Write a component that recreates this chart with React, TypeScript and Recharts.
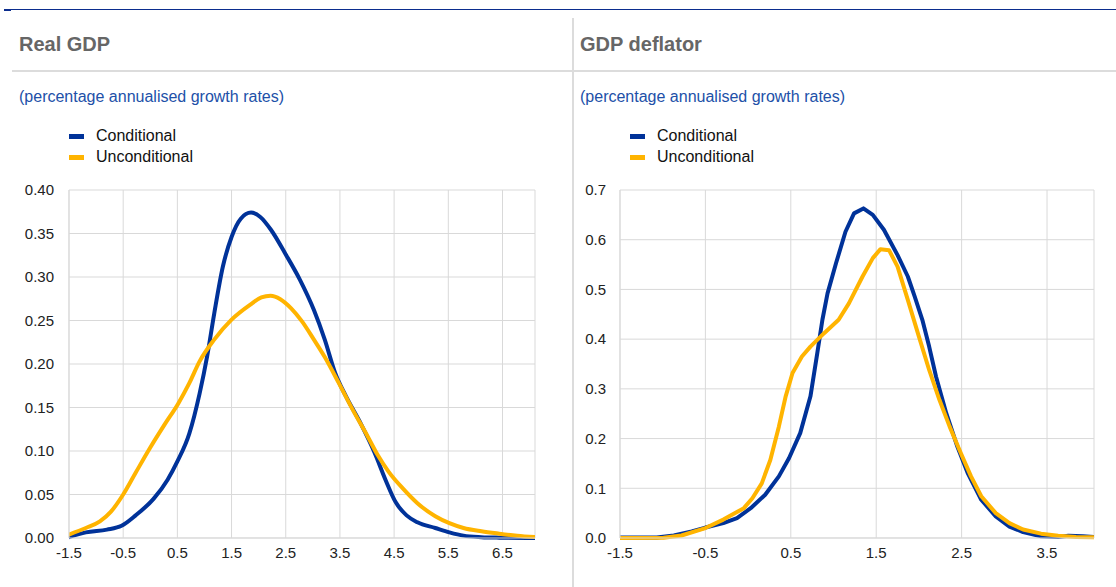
import React from 'react';
import { LineChart, Line, XAxis, YAxis, CartesianGrid } from 'recharts';

type Pt = { x: number; y: number };

// Real GDP densities (x = growth rate, y = density)
const realGdpConditional: Pt[] = [
  { x: -1.5, y: 0.001 }, { x: -1.19, y: 0.0065 }, { x: -0.8, y: 0.0096 }, { x: -0.53, y: 0.014 },
  { x: -0.27, y: 0.026 }, { x: 0.06, y: 0.045 }, { x: 0.32, y: 0.067 }, { x: 0.5, y: 0.088 },
  { x: 0.72, y: 0.12 }, { x: 0.91, y: 0.166 }, { x: 1.05, y: 0.209 }, { x: 1.18, y: 0.258 },
  { x: 1.34, y: 0.312 }, { x: 1.5, y: 0.346 }, { x: 1.67, y: 0.367 }, { x: 1.86, y: 0.374 },
  { x: 2.03, y: 0.369 }, { x: 2.23, y: 0.354 }, { x: 2.49, y: 0.327 }, { x: 2.76, y: 0.297 },
  { x: 3.02, y: 0.262 }, { x: 3.22, y: 0.228 }, { x: 3.41, y: 0.19 }, { x: 3.61, y: 0.163 },
  { x: 3.88, y: 0.132 }, { x: 4.14, y: 0.098 }, { x: 4.34, y: 0.067 }, { x: 4.53, y: 0.041 },
  { x: 4.73, y: 0.026 }, { x: 4.93, y: 0.018 }, { x: 5.26, y: 0.0115 }, { x: 5.52, y: 0.0065 },
  { x: 5.78, y: 0.0027 }, { x: 6.11, y: 0.001 }, { x: 6.44, y: 0.0004 }, { x: 7.1, y: 0 },
];

const realGdpUnconditional: Pt[] = [
  { x: -1.5, y: 0.004 }, { x: -1.19, y: 0.0115 }, { x: -0.93, y: 0.019 }, { x: -0.73, y: 0.03 },
  { x: -0.5, y: 0.05 }, { x: -0.27, y: 0.075 }, { x: 0.0, y: 0.104 }, { x: 0.26, y: 0.13 },
  { x: 0.52, y: 0.155 }, { x: 0.72, y: 0.178 }, { x: 0.91, y: 0.203 }, { x: 1.18, y: 0.228 },
  { x: 1.5, y: 0.251 }, { x: 1.84, y: 0.268 }, { x: 2.05, y: 0.2765 }, { x: 2.22, y: 0.2785 },
  { x: 2.4, y: 0.2745 }, { x: 2.6, y: 0.264 }, { x: 2.8, y: 0.249 }, { x: 3.02, y: 0.228 },
  { x: 3.22, y: 0.208 }, { x: 3.48, y: 0.178 }, { x: 3.74, y: 0.147 }, { x: 4.01, y: 0.117 },
  { x: 4.2, y: 0.095 }, { x: 4.4, y: 0.076 }, { x: 4.66, y: 0.057 }, { x: 4.93, y: 0.04 },
  { x: 5.26, y: 0.025 }, { x: 5.52, y: 0.017 }, { x: 5.78, y: 0.0115 }, { x: 6.11, y: 0.0077 },
  { x: 6.44, y: 0.005 }, { x: 6.77, y: 0.0027 }, { x: 7.1, y: 0.001 },
];

// GDP deflator densities
const deflatorConditional: Pt[] = [
  { x: -1.5, y: 0.001 }, { x: -1.07, y: 0.001 }, { x: -0.87, y: 0.005 }, { x: -0.66, y: 0.013 },
  { x: -0.5, y: 0.021 }, { x: -0.29, y: 0.03 }, { x: -0.13, y: 0.04 }, { x: 0.03, y: 0.06 },
  { x: 0.2, y: 0.087 }, { x: 0.36, y: 0.124 }, { x: 0.48, y: 0.161 }, { x: 0.61, y: 0.211 },
  { x: 0.73, y: 0.285 }, { x: 0.81, y: 0.372 }, { x: 0.87, y: 0.439 }, { x: 0.93, y: 0.492 },
  { x: 1.03, y: 0.553 }, { x: 1.14, y: 0.616 }, { x: 1.24, y: 0.653 }, { x: 1.35, y: 0.663 },
  { x: 1.46, y: 0.65 }, { x: 1.59, y: 0.62 }, { x: 1.75, y: 0.569 }, { x: 1.87, y: 0.526 },
  { x: 1.95, y: 0.486 }, { x: 2.04, y: 0.439 }, { x: 2.12, y: 0.385 }, { x: 2.2, y: 0.325 },
  { x: 2.32, y: 0.251 }, { x: 2.45, y: 0.184 }, { x: 2.57, y: 0.131 }, { x: 2.73, y: 0.077 },
  { x: 2.9, y: 0.0435 }, { x: 3.06, y: 0.023 }, { x: 3.22, y: 0.012 }, { x: 3.43, y: 0.0033 },
  { x: 3.63, y: 0.002 }, { x: 3.75, y: 0.0047 }, { x: 3.92, y: 0.0033 }, { x: 4.05, y: 0.002 },
];

const deflatorUnconditional: Pt[] = [
  { x: -1.5, y: 0 }, { x: -0.99, y: 0.0007 }, { x: -0.78, y: 0.005 }, { x: -0.5, y: 0.02 },
  { x: -0.29, y: 0.037 }, { x: -0.05, y: 0.06 }, { x: 0.05, y: 0.08 }, { x: 0.16, y: 0.11 },
  { x: 0.26, y: 0.157 }, { x: 0.36, y: 0.224 }, { x: 0.44, y: 0.285 }, { x: 0.52, y: 0.332 },
  { x: 0.63, y: 0.365 }, { x: 0.73, y: 0.385 }, { x: 0.89, y: 0.412 }, { x: 1.06, y: 0.439 },
  { x: 1.18, y: 0.472 }, { x: 1.34, y: 0.526 }, { x: 1.46, y: 0.563 }, { x: 1.55, y: 0.581 },
  { x: 1.65, y: 0.579 }, { x: 1.75, y: 0.546 }, { x: 1.87, y: 0.479 }, { x: 2.0, y: 0.405 },
  { x: 2.12, y: 0.338 }, { x: 2.24, y: 0.278 }, { x: 2.36, y: 0.224 }, { x: 2.49, y: 0.171 },
  { x: 2.61, y: 0.124 }, { x: 2.73, y: 0.084 }, { x: 2.9, y: 0.05 }, { x: 3.06, y: 0.03 },
  { x: 3.22, y: 0.017 }, { x: 3.43, y: 0.0087 }, { x: 3.63, y: 0.0047 }, { x: 3.84, y: 0.002 },
  { x: 4.05, y: 0.0013 },
];

const realGdpXTicks = [-1.5, -0.5, 0.5, 1.5, 2.5, 3.5, 4.5, 5.5, 6.5];
const realGdpYTicks = [0, 0.05, 0.1, 0.15, 0.2, 0.25, 0.3, 0.35, 0.4];
const deflatorXTicks = [-1.5, -0.5, 0.5, 1.5, 2.5, 3.5];
const deflatorYTicks = [0, 0.1, 0.2, 0.3, 0.4, 0.5, 0.6, 0.7];

const BLUE = '#003299';
const YELLOW = '#ffb400';
const GRID = '#d9d9d9';
const FONT = '"Liberation Sans", Arial, sans-serif';

const tickStyle = { fontSize: 15, fill: '#222', fontFamily: FONT };

function Header({ left, title }: { left: number; title: string }) {
  return (
    <>
      <div style={{ position: 'absolute', left, top: 33, fontSize: 20, fontWeight: 'bold', color: '#666', fontFamily: FONT }}>
        {title}
      </div>
      <div style={{ position: 'absolute', left, top: 88, fontSize: 16, color: '#2150a8', fontFamily: FONT }}>
        (percentage annualised growth rates)
      </div>
      {[
        { name: 'Conditional', color: BLUE, top: 127 },
        { name: 'Unconditional', color: YELLOW, top: 148 },
      ].map((it) => (
        <div key={it.name} style={{ position: 'absolute', left: left + 50, top: it.top, fontFamily: FONT, fontSize: 16, color: '#111', display: 'flex', alignItems: 'center' }}>
          <span style={{ display: 'inline-block', width: 15, height: 5, background: it.color, marginRight: 12 }} />
          {it.name}
        </div>
      ))}
    </>
  );
}

export default function App() {
  return (
    <div style={{ position: 'absolute', left: 0, top: 0, width: 1116, height: 587, background: '#fff', overflow: 'hidden' }}>
      <div style={{ position: 'absolute', left: 4, top: 9, width: 1112, height: 1, background: '#0b2d8e' }} />
      <div style={{ position: 'absolute', left: 4, top: 9, width: 7, height: 2, background: '#0b2d8e' }} />
      <div style={{ position: 'absolute', left: 12, top: 70, width: 1104, height: 2, background: '#dcdcdc' }} />
      <div style={{ position: 'absolute', left: 572, top: 18, width: 2, height: 569, background: '#dcdcdc' }} />

      <Header left={19} title="Real GDP" />
      <Header left={580} title="GDP deflator" />

      <div style={{ position: 'absolute', left: 0, top: 180 }}>
        <LineChart width={545} height={400} margin={{ top: 10, right: 10, bottom: 0, left: 0 }}>
          <CartesianGrid stroke={GRID} strokeWidth={1} />
          <XAxis
            type="number"
            dataKey="x"
            domain={[-1.5, 7.1]}
            ticks={realGdpXTicks}
            tickFormatter={(v: number) => v.toFixed(1)}
            allowDataOverflow
            tickLine={false}
            axisLine={{ stroke: GRID }}
            tick={tickStyle}
            tickMargin={3}
            height={42}
          />
          <YAxis
            type="number"
            domain={[0, 0.4]}
            ticks={realGdpYTicks}
            tickFormatter={(v: number) => v.toFixed(2)}
            tickLine={false}
            axisLine={{ stroke: GRID }}
            tick={tickStyle}
            tickMargin={9}
            width={69}
          />
          <Line data={realGdpConditional} dataKey="y" type="monotone" stroke={BLUE} strokeWidth={4} dot={false} strokeLinecap="round" isAnimationActive={false} />
          <Line data={realGdpUnconditional} dataKey="y" type="monotone" stroke={YELLOW} strokeWidth={4} dot={false} strokeLinecap="round" isAnimationActive={false} />
        </LineChart>
      </div>

      <div style={{ position: 'absolute', left: 575, top: 180 }}>
        <LineChart width={529} height={400} margin={{ top: 10, right: 10, bottom: 0, left: 0 }}>
          <CartesianGrid stroke={GRID} strokeWidth={1} />
          <XAxis
            type="number"
            dataKey="x"
            domain={[-1.5, 4.05]}
            ticks={deflatorXTicks}
            tickFormatter={(v: number) => v.toFixed(1)}
            allowDataOverflow
            tickLine={false}
            axisLine={{ stroke: GRID }}
            tick={tickStyle}
            tickMargin={3}
            height={42}
          />
          <YAxis
            type="number"
            domain={[0, 0.7]}
            ticks={deflatorYTicks}
            tickFormatter={(v: number) => v.toFixed(1)}
            tickLine={false}
            axisLine={{ stroke: GRID }}
            tick={tickStyle}
            tickMargin={8}
            width={45}
          />
          <Line data={deflatorConditional} dataKey="y" type="linear" stroke={BLUE} strokeWidth={4} dot={false} strokeLinecap="round" strokeLinejoin="round" isAnimationActive={false} />
          <Line data={deflatorUnconditional} dataKey="y" type="linear" stroke={YELLOW} strokeWidth={4} dot={false} strokeLinecap="round" strokeLinejoin="round" isAnimationActive={false} />
        </LineChart>
      </div>
    </div>
  );
}
